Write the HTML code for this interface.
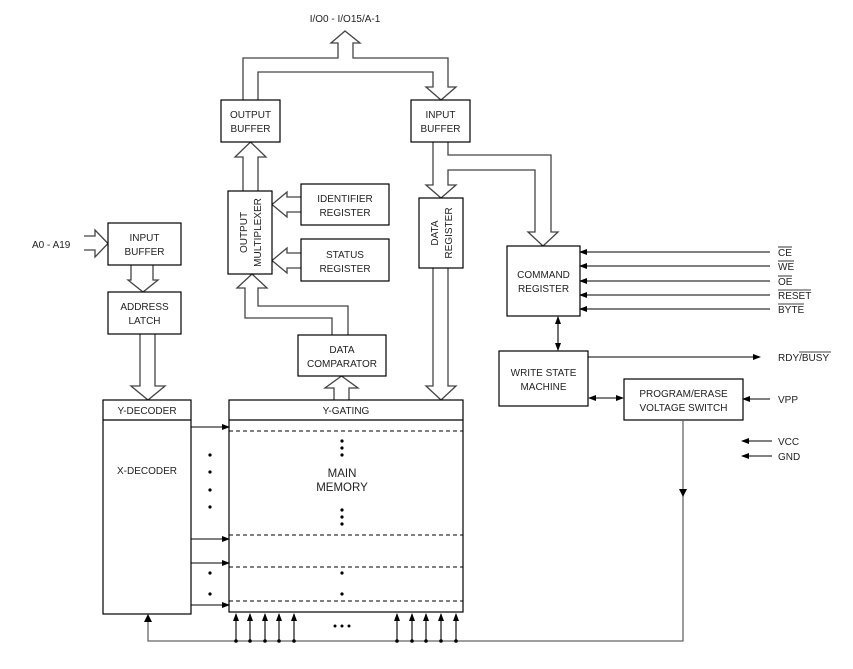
<!DOCTYPE html>
<html><head><meta charset="utf-8"><style>
html,body{margin:0;padding:0;background:#fff;}
svg{display:block;}
text{font-family:"Liberation Sans",sans-serif;font-size:10px;fill:#222;}
</style></head><body>
<svg width="853" height="669" viewBox="0 0 853 669" xmlns="http://www.w3.org/2000/svg">
<defs>
<marker id="ah" markerWidth="8" markerHeight="8" refX="7" refY="4" orient="auto" markerUnits="userSpaceOnUse"><path d="M0,1 L8,4 L0,7 Z" fill="#000"/></marker>
<marker id="as" markerWidth="8" markerHeight="8" refX="1" refY="4" orient="auto" markerUnits="userSpaceOnUse"><path d="M8,1 L0,4 L8,7 Z" fill="#000"/></marker>
</defs>
<g fill="none" stroke="#444" stroke-width="1.3">
<!-- top bus -->
<path d="M243,100 V58 H338 V43 H331 L345,31 L360,43 H353 V58 H448 V87 H456 L441,100 L426,87 H433 V72 H258 V100"/>
<!-- mux to output buffer -->
<path d="M243,191 V157 H235 L250.5,142 L266,157 H258 V191"/>
<!-- registers to mux -->
<path d="M301,197 H287 V192 L272,204.5 L287,217 V212 H301"/>
<path d="M301,253 H287 V248 L272,260.5 L287,273 V268 H301"/>
<!-- A0 -->
<path d="M84,236 H95 V230 L108,243.5 L95,257 V250 H84"/>
<!-- input buffer to latch -->
<path d="M131,265 V280 H128 L143,292 L158,280 H153 V265"/>
<!-- latch to y decoder -->
<path d="M140,334 V386 H131 L148,400 L165,386 H155 V334"/>
<!-- comparator to mux -->
<path d="M348,335 V306 H258 V288 H267 L252,274 L237,288 H245 V318 H332 V335"/>
<!-- Y gating to comparator -->
<path d="M334,400 V388 H325 L341.5,376 L358,388 H349 V400"/>
<!-- input buffer to data reg & cmd -->
<path d="M433,142 V185 H426 L441,198 L456,185 H448 V170 H535 V232 H528 L543,246 L558,232 H551 V155 H448 V142"/>
<!-- data reg to Y gating -->
<path d="M433,268 V386 H426 L441,400 L456,386 H448 V268"/>
</g>
<g fill="#fff" stroke="#000" stroke-width="1.2">
<rect x="221" y="100" width="59" height="42"/>
<rect x="411" y="100" width="59" height="42"/>
<rect x="228" y="191" width="44" height="83"/>
<rect x="301" y="184" width="88" height="41"/>
<rect x="301" y="239" width="88" height="42"/>
<rect x="108" y="223" width="73" height="42"/>
<rect x="108" y="292" width="73" height="42"/>
<rect x="419" y="198" width="44" height="70"/>
<rect x="298" y="335" width="88" height="41"/>
<rect x="507" y="246" width="73" height="70"/>
<rect x="499" y="351" width="89" height="55"/>
<rect x="624" y="379" width="119" height="41"/>
<rect x="103" y="400" width="88" height="214"/>
<rect x="229" y="400" width="234" height="212"/>
</g>
<g stroke="#000" stroke-width="1.2">
<line x1="103" y1="420" x2="191" y2="420"/>
<line x1="229" y1="420" x2="463" y2="420"/>
</g>
<g stroke="#000" stroke-width="1" stroke-dasharray="4,3">
<line x1="229" y1="431" x2="463" y2="431"/>
<line x1="229" y1="535" x2="463" y2="535"/>
<line x1="229" y1="567" x2="463" y2="567"/>
<line x1="229" y1="601" x2="463" y2="601"/>
</g>
<g stroke="#000" stroke-width="1.1" fill="none">
<line x1="191" y1="427" x2="229" y2="427" marker-end="url(#ah)"/>
<line x1="191" y1="539" x2="229" y2="539" marker-end="url(#ah)"/>
<line x1="191" y1="563" x2="229" y2="563" marker-end="url(#ah)"/>
<line x1="191" y1="605" x2="229" y2="605" marker-end="url(#ah)"/>
<line x1="770" y1="252" x2="580" y2="252" marker-end="url(#ah)"/>
<line x1="770" y1="266" x2="580" y2="266" marker-end="url(#ah)"/>
<line x1="770" y1="281" x2="580" y2="281" marker-end="url(#ah)"/>
<line x1="770" y1="295" x2="580" y2="295" marker-end="url(#ah)"/>
<line x1="770" y1="309" x2="580" y2="309" marker-end="url(#ah)"/>
<line x1="558" y1="317" x2="558" y2="350" marker-start="url(#as)" marker-end="url(#ah)"/>
<line x1="588" y1="357" x2="760" y2="357" marker-end="url(#ah)"/>
<line x1="589" y1="398" x2="623" y2="398" marker-start="url(#as)" marker-end="url(#ah)"/>
<line x1="770" y1="399" x2="743" y2="399" marker-end="url(#ah)"/>
<line x1="772" y1="441" x2="742" y2="441" marker-end="url(#ah)"/>
<line x1="772" y1="456" x2="742" y2="456" marker-end="url(#ah)"/>
</g>
<g stroke="#666" stroke-width="1.3" fill="none">
<path d="M683,420 V641 H148 V616"/>
</g>
<path d="M679,489 L687,489 L683,497 Z" fill="#000"/>
<path d="M144,622 L152,622 L148,614 Z" fill="#000"/>
<g stroke="#000" stroke-width="1.1">
<line x1="236" y1="641" x2="236" y2="614" marker-end="url(#ah)"/>
<line x1="250" y1="641" x2="250" y2="614" marker-end="url(#ah)"/>
<line x1="265" y1="641" x2="265" y2="614" marker-end="url(#ah)"/>
<line x1="279" y1="641" x2="279" y2="614" marker-end="url(#ah)"/>
<line x1="294" y1="641" x2="294" y2="614" marker-end="url(#ah)"/>
<line x1="397" y1="641" x2="397" y2="614" marker-end="url(#ah)"/>
<line x1="412" y1="641" x2="412" y2="614" marker-end="url(#ah)"/>
<line x1="426" y1="641" x2="426" y2="614" marker-end="url(#ah)"/>
<line x1="441" y1="641" x2="441" y2="614" marker-end="url(#ah)"/>
<line x1="456" y1="641" x2="456" y2="614" marker-end="url(#ah)"/>
</g>
<g fill="#000">
<circle cx="236" cy="641" r="1.8"/><circle cx="250" cy="641" r="1.8"/><circle cx="265" cy="641" r="1.8"/><circle cx="279" cy="641" r="1.8"/><circle cx="294" cy="641" r="1.8"/>
<circle cx="397" cy="641" r="1.8"/><circle cx="412" cy="641" r="1.8"/><circle cx="426" cy="641" r="1.8"/><circle cx="441" cy="641" r="1.8"/><circle cx="456" cy="641" r="1.8"/>
<circle cx="335" cy="626" r="1.5"/><circle cx="342" cy="626" r="1.5"/><circle cx="349" cy="626" r="1.5"/>
<circle cx="210" cy="455" r="1.6"/><circle cx="210" cy="472" r="1.6"/><circle cx="210" cy="490" r="1.6"/><circle cx="210" cy="507" r="1.6"/>
<circle cx="210" cy="573" r="1.6"/><circle cx="210" cy="594" r="1.6"/>
<circle cx="342" cy="441" r="1.6"/><circle cx="342" cy="448" r="1.6"/><circle cx="342" cy="455" r="1.6"/>
<circle cx="342" cy="510" r="1.6"/><circle cx="342" cy="517" r="1.6"/><circle cx="342" cy="524" r="1.6"/>
<circle cx="342" cy="573" r="1.6"/><circle cx="342" cy="594" r="1.6"/>
</g>
<g text-anchor="middle">
<text x="345" y="22">I/O0 - I/O15/A-1</text>
<text x="250.5" y="118">OUTPUT</text><text x="250.5" y="132">BUFFER</text>
<text x="440.5" y="118">INPUT</text><text x="440.5" y="132">BUFFER</text>
<text x="345" y="202">IDENTIFIER</text><text x="345" y="216">REGISTER</text>
<text x="345" y="258">STATUS</text><text x="345" y="272">REGISTER</text>
<text x="144.5" y="241">INPUT</text><text x="144.5" y="255">BUFFER</text>
<text x="144.5" y="310">ADDRESS</text><text x="144.5" y="324">LATCH</text>
<text x="342" y="353">DATA</text><text x="342" y="367">COMPARATOR</text>
<text x="543.5" y="278">COMMAND</text><text x="543.5" y="292">REGISTER</text>
<text x="543.5" y="376">WRITE STATE</text><text x="543.5" y="390">MACHINE</text>
<text x="683.5" y="397">PROGRAM/ERASE</text><text x="683.5" y="411">VOLTAGE SWITCH</text>
<text x="147" y="414">Y-DECODER</text>
<text x="147" y="474">X-DECODER</text>
<text x="346" y="414">Y-GATING</text>
<text x="342" y="477" style="font-size:11.5px">MAIN</text><text x="342" y="491" style="font-size:11.5px">MEMORY</text>
<text transform="translate(247,232.5) rotate(-90)">OUTPUT</text>
<text transform="translate(261,232.5) rotate(-90)">MULTIPLEXER</text>
<text transform="translate(438,233) rotate(-90)">DATA</text>
<text transform="translate(452,233) rotate(-90)">REGISTER</text>
</g>
<text x="32" y="248">A0 - A19</text>
<text x="778" y="256">CE</text><text x="778" y="270">WE</text><text x="778" y="285">OE</text><text x="778" y="299">RESET</text><text x="778" y="313">BYTE</text>
<g stroke="#000" stroke-width="0.8">
<line x1="778" y1="247" x2="792" y2="247"/><line x1="778" y1="261" x2="794" y2="261"/><line x1="778" y1="276" x2="792" y2="276"/><line x1="778" y1="290" x2="811" y2="290"/><line x1="778" y1="304" x2="804" y2="304"/>
<line x1="799" y1="352" x2="831" y2="352"/>
</g>
<text x="778" y="361">RDY/BUSY</text>
<text x="778" y="403">VPP</text>
<text x="778" y="445">VCC</text>
<text x="778" y="460">GND</text>
</svg>
</body></html>
